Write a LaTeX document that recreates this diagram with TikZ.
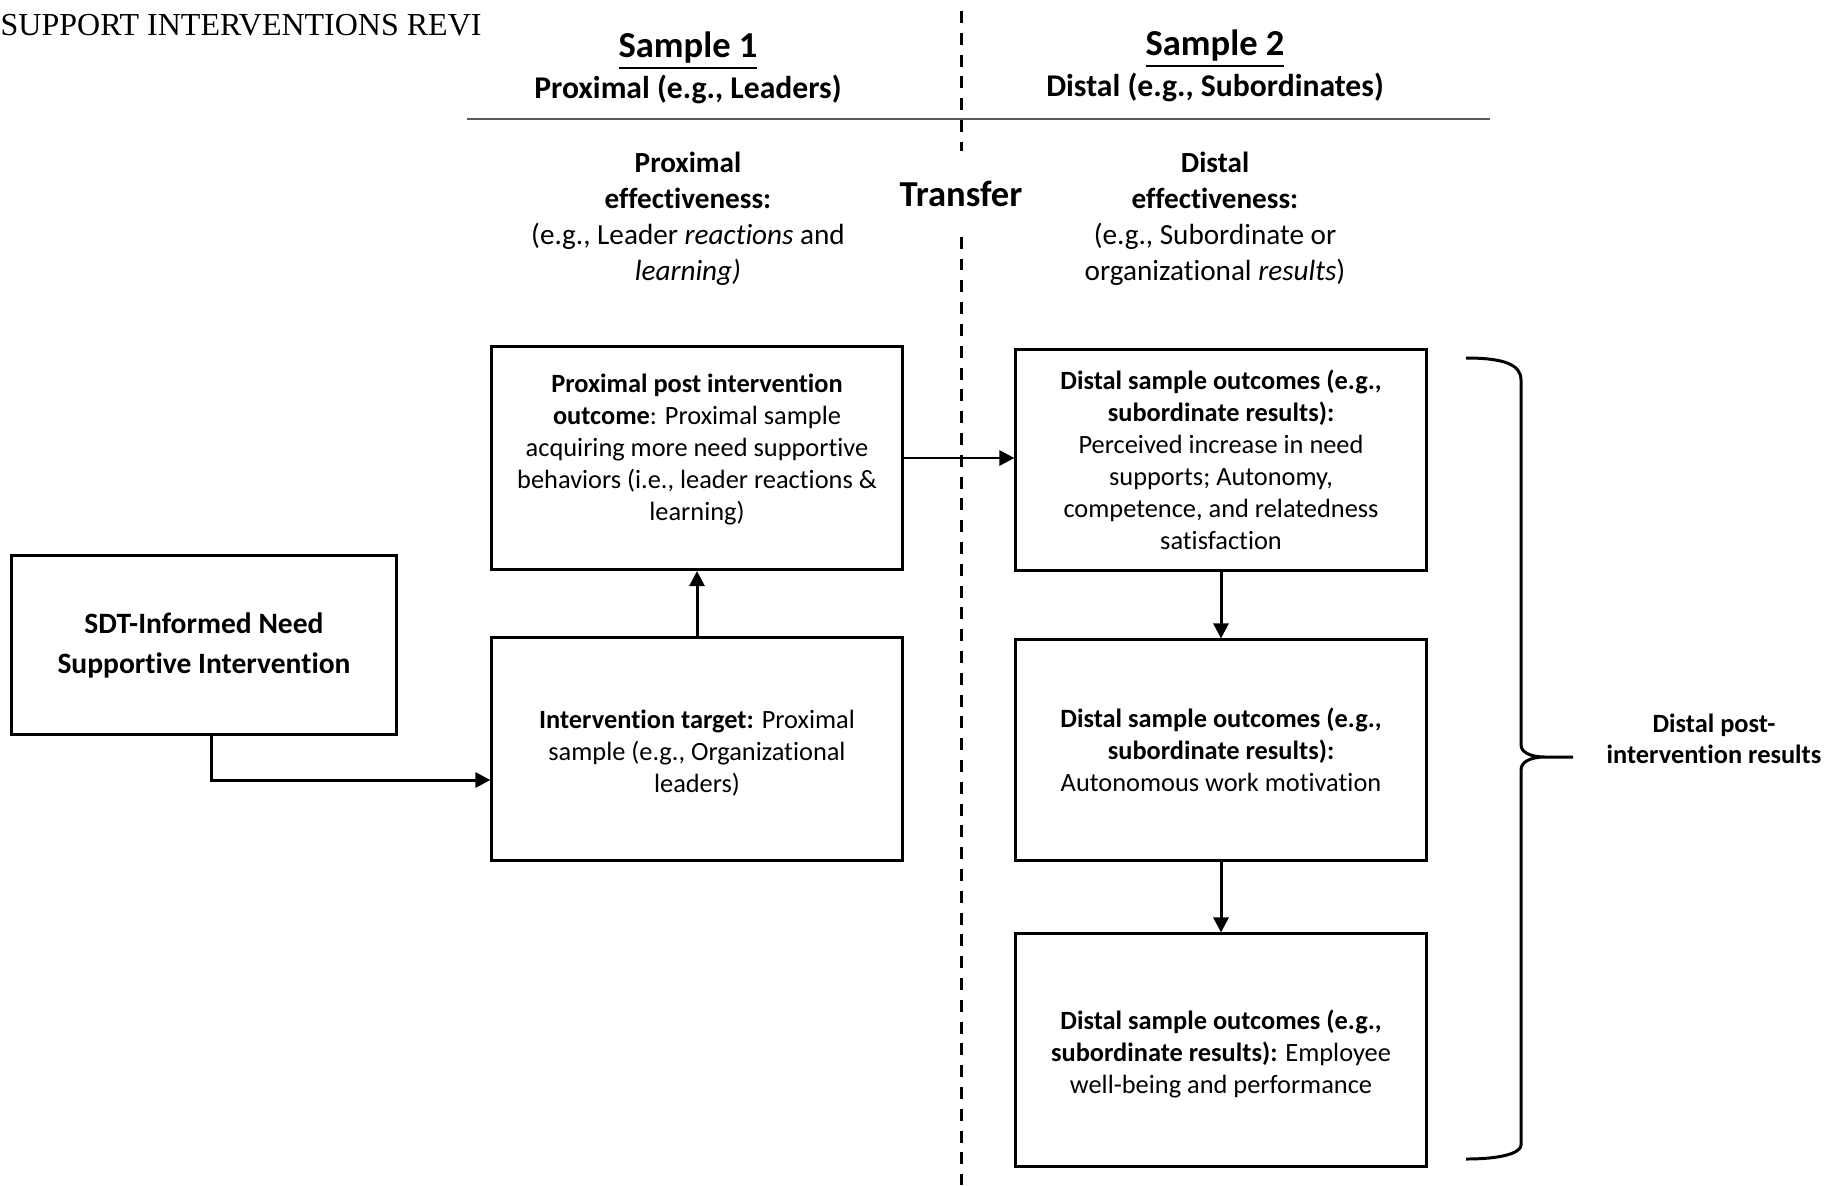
\documentclass[tikz,border=0pt]{standalone}
\usepackage{fontspec}
\setmainfont{Carlito}[Ligatures=NoCommon]
\newfontfamily\runfont{Liberation Serif}
\usetikzlibrary{arrows.meta}
\begin{document}
\begin{tikzpicture}[x=0.01cm,y=-0.01cm]
\tikzstyle{box}=[draw,line width=0.85pt,align=center,inner sep=2pt,minimum width=4.1cm,font=\fontsize{7.5}{9.1}\selectfont]
\tikzstyle{arr}=[line width=0.85pt,-{Triangle[length=4.3pt,width=4.3pt]}]
\tikzstyle{head}=[align=center,font=\bfseries\fontsize{9}{10.8}\selectfont]
\tikzstyle{big}=[font=\bfseries\fontsize{10.4}{12}\selectfont]
\tikzstyle{eff}=[align=center,font=\fontsize{8.3}{10.2}\selectfont]
\tikzstyle{divider}=[line width=0.85pt,dash pattern=on 3.4pt off 2.8pt]
\useasboundingbox (0,0) rectangle (1840,1185);
\node[anchor=base west,inner sep=0,font=\runfont\fontsize{9.1}{10}\selectfont] (run) at (0,36) {SUPPORT INTERVENTIONS REVI};
\node[big] (s1) at (688,51) {\underline{Sample 1}};
\node[head] (s1sub) at (688,89) {Proximal (e.g., Leaders)};
\node[big] (s2) at (1215,49) {\underline{Sample 2}};
\node[head] (s2sub) at (1215,87) {Distal (e.g., Subordinates)};
\coordinate (hl) at (467,119);
\coordinate (hr) at (1490,119);
\draw[line width=0.6pt,black!65] (hl) -- (hr);
\node[big,minimum height=0.84cm] (transfer) at (961,194) {Transfer};
\coordinate (dtop) at (961,11);
\coordinate (dbot) at (961,1185);
\draw[divider] (dtop) -- (transfer.north);
\draw[divider] (transfer.south) -- (dbot);
\node[eff] (peff) at (688,219) {\textbf{Proximal}\\\textbf{effectiveness:}\\(e.g., Leader \textit{reactions} and\\\textit{learning)}};
\node[eff] (deff) at (1215,219) {\textbf{Distal}\\\textbf{effectiveness:}\\(e.g., Subordinate or\\organizational \textit{results})};
\node[box,minimum width=3.85cm,minimum height=1.79cm,font=\bfseries\fontsize{8.4}{11.4}\selectfont] (sdt) at (204,645) {SDT-Informed Need\\Supportive Intervention};
\node[box,minimum height=2.22cm] (target) at (697,749) {\rule{0pt}{7.6pt}\textbf{Intervention target:} Proximal\\sample (e.g., Organizational\\leaders)};
\node[box,minimum height=2.23cm] (outcome) at (697,458) {\textbf{Proximal post intervention}\\\textbf{outcome}: Proximal sample\\acquiring more need supportive\\behaviors (i.e., leader reactions \&\\learning)\rule[-6pt]{0pt}{6pt}};
\node[box,minimum height=2.2cm] (dist1) at (1221,460) {\textbf{Distal sample outcomes (e.g.,}\\\textbf{subordinate results):}\\Perceived increase in need\\supports; Autonomy,\\competence, and relatedness\\satisfaction};
\node[box,minimum height=2.2cm] (dist2) at (1221,750) {\textbf{Distal sample outcomes (e.g.,}\\\textbf{subordinate results):}\\Autonomous work motivation};
\node[box,minimum height=2.32cm] (dist3) at (1221,1050) {\rule{0pt}{7.6pt}\textbf{Distal sample outcomes (e.g.,}\\\textbf{subordinate results):} Employee\\well-being and performance};
\draw[arr] ([xshift=0.07cm]sdt.south) |- ([yshift=-0.31cm]target.west);
\draw[arr] (target.north) -- (outcome.south);
\draw[arr] (outcome.east) -- (outcome.east -| dist1.west);
\draw[arr] (dist1.south) -- (dist2.north);
\draw[arr] (dist2.south) -- (dist3.north);
\coordinate (tip) at (1573,757);
\draw[line width=0.85pt] (1466,358) .. controls (1505,358) and (1521,365) .. (1521,380) -- (1521,745) .. controls (1521,752) and (1530,757) .. (1545,757) -- (tip) -- (1545,757) .. controls (1530,757) and (1521,762) .. (1521,770) -- (1521,1145) .. controls (1521,1152) and (1505,1159) .. (1466,1159);
\node[align=center,font=\bfseries\fontsize{7.5}{8.7}\selectfont] (res) at (1714,739) {Distal post-\\intervention results};
\end{tikzpicture}
\end{document}
